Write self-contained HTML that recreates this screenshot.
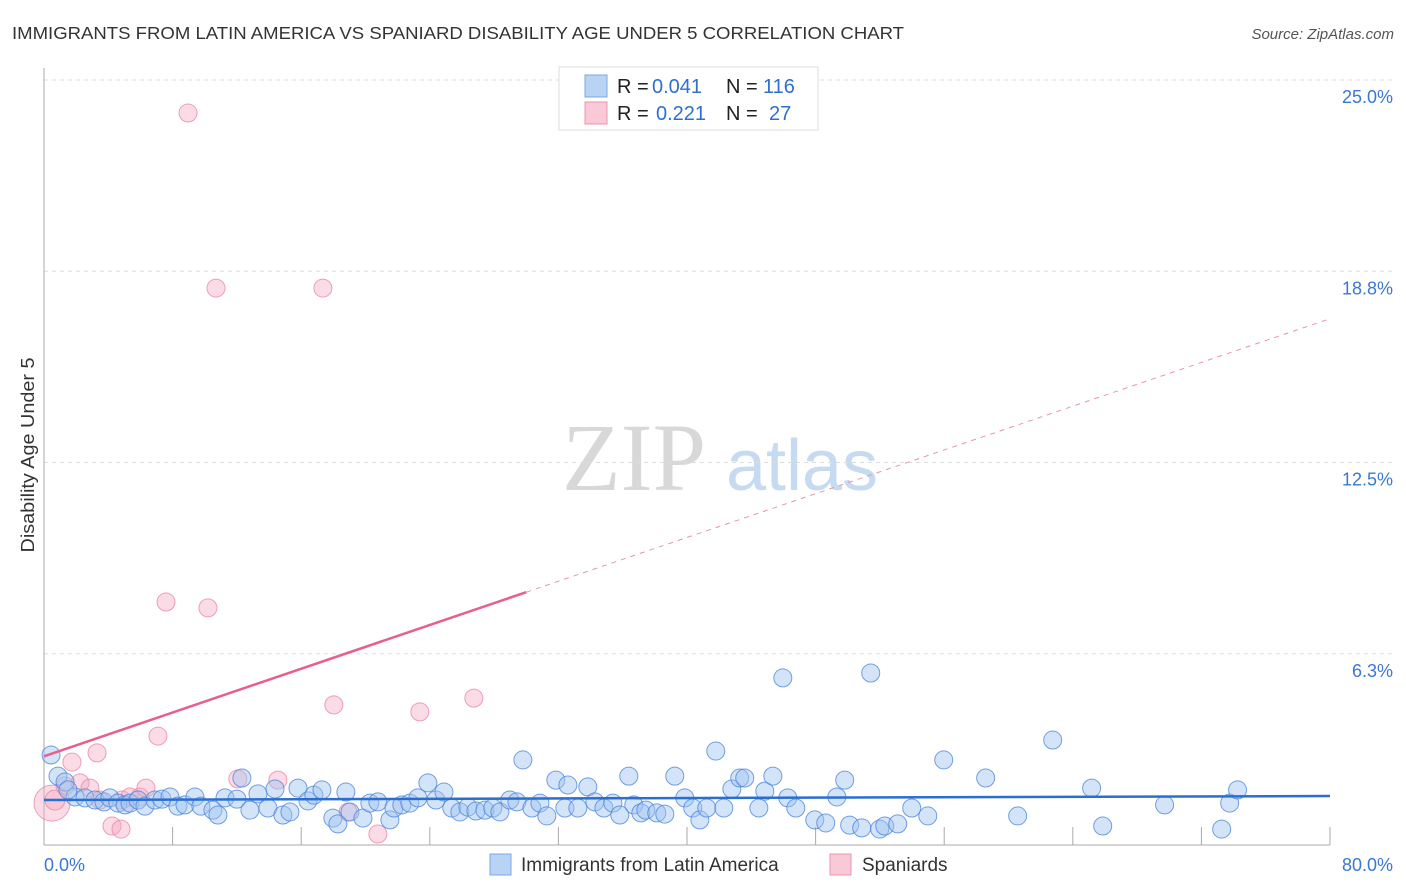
<!DOCTYPE html>
<html><head><meta charset="utf-8"><style>
body{margin:0;background:#fff;font-family:"Liberation Sans",sans-serif}
#wrap{position:relative;width:1406px;height:892px;overflow:hidden}
</style></head><body>
<div id="wrap">
<svg id="svg" width="1406" height="892" xmlns="http://www.w3.org/2000/svg">
<text x="12" y="39" font-size="17.5" fill="#333" textLength="892" lengthAdjust="spacingAndGlyphs">IMMIGRANTS FROM LATIN AMERICA VS SPANIARD DISABILITY AGE UNDER 5 CORRELATION CHART</text>
<text x="1394" y="39" font-size="15" fill="#555" font-style="italic" text-anchor="end">Source: ZipAtlas.com</text>
<text x="0" y="0" transform="translate(34,455) rotate(-90)" font-size="18" fill="#333" text-anchor="middle" textLength="195" lengthAdjust="spacingAndGlyphs">Disability Age Under 5</text>
<g>
<text x="634" y="490" font-family="Liberation Serif,serif" font-size="96" fill="#d8d8d8" text-anchor="middle">ZIP</text>
<text x="802" y="490" font-size="72" fill="#c6daf2" text-anchor="middle">atlas</text>
</g>
<g id="grid"></g><g id="axes"></g><g id="pts"></g><g id="trend"></g>
<g>
<rect x="559" y="67" width="259" height="63" fill="#fff" stroke="#ddd"/>
<rect x="585" y="75" width="22" height="22" fill="#b9d3f5" stroke="#7aa7e6"/>
<rect x="585" y="102" width="22" height="22" fill="#f9c9d7" stroke="#eb93ac"/>
<text x="617" y="93" font-size="20" fill="#222">R =</text>
<text x="652" y="93" font-size="20" fill="#2e6fd0">0.041</text>
<text x="726" y="93" font-size="20" fill="#222">N =</text>
<text x="763" y="93" font-size="20" fill="#2e6fd0">116</text>
<text x="617" y="120" font-size="20" fill="#222">R =</text>
<text x="656" y="120" font-size="20" fill="#2e6fd0">0.221</text>
<text x="726" y="120" font-size="20" fill="#222">N =</text>
<text x="769" y="120" font-size="20" fill="#2e6fd0">27</text>
</g>
<g>
<rect x="490" y="854" width="21" height="21" fill="#b9d3f5" stroke="#7aa7e6"/>
<text x="521" y="871" font-size="19" fill="#333">Immigrants from Latin America</text>
<rect x="830" y="854" width="21" height="21" fill="#f9c9d7" stroke="#eb93ac"/>
<text x="862" y="871" font-size="19" fill="#333">Spaniards</text>
</g>
</svg>
</div>
<script>
const yTicks=[25.0,18.8,12.5,6.3];
const yTickVals=[25,18.75,12.5,6.25];
const xTickLabels=["0.0%","80.0%"];
const blueX=[0.44,0.87,1.31,1.93,1.49,2.55,3.17,3.73,4.10,4.60,5.04,5.35,5.85,6.28,6.90,7.34,7.84,8.33,8.77,9.39,9.76,10.51,10.82,11.26,12.00,12.31,12.81,13.31,13.93,14.37,14.86,15.30,15.80,16.42,16.79,17.29,17.97,18.28,18.78,19.03,19.84,20.27,20.77,21.52,21.77,22.26,22.76,23.26,23.88,24.38,24.88,25.37,25.87,26.37,26.87,27.43,27.92,28.36,28.98,29.42,29.79,30.35,30.85,31.28,31.84,32.40,32.59,33.21,33.83,34.27,34.83,35.39,35.82,36.38,36.69,37.13,37.44,38.12,38.62,39.24,39.86,40.36,40.80,41.23,41.79,42.29,42.79,43.28,43.59,44.47,44.84,45.34,45.96,46.27,46.77,47.95,48.63,49.32,49.81,50.12,50.87,51.43,51.99,52.30,53.11,53.98,54.98,55.97,58.58,60.57,62.75,65.17,65.86,69.71,73.26,73.76,74.25];
const blueY=[2.94,2.25,2.06,1.57,1.80,1.54,1.47,1.41,1.54,1.37,1.31,1.37,1.47,1.27,1.47,1.50,1.57,1.27,1.31,1.57,1.27,1.14,0.98,1.54,1.50,2.19,1.14,1.67,1.21,1.83,0.98,1.08,1.86,1.44,1.63,1.80,0.88,0.69,1.73,1.08,0.88,1.37,1.41,0.82,1.21,1.31,1.37,1.54,2.03,1.47,1.73,1.21,1.08,1.24,1.11,1.14,1.21,1.08,1.47,1.41,2.78,1.21,1.37,0.95,2.12,1.21,1.96,1.21,1.90,1.41,1.21,1.37,0.98,2.25,1.31,1.05,1.14,1.05,1.01,2.25,1.54,1.21,0.82,1.21,3.07,1.21,1.83,2.19,2.19,1.21,1.76,2.25,5.46,1.54,1.21,0.82,0.72,1.57,2.12,0.65,0.56,5.62,0.52,0.62,0.69,1.21,0.95,2.78,2.19,0.95,3.43,1.86,0.62,1.31,0.52,1.37,1.80];
const pinkX=[0.50,0.68,1.31,1.74,2.24,2.86,3.30,3.48,4.23,4.79,4.85,5.35,5.97,6.34,7.09,7.59,8.96,10.20,10.70,12.06,14.55,17.35,18.03,18.91,20.77,23.38,26.74];
const pinkY=[1.37,1.47,1.93,2.71,2.03,1.86,3.01,1.47,0.62,0.52,1.47,1.57,1.57,1.86,3.56,7.94,23.92,7.75,18.20,2.16,2.12,18.20,4.58,1.08,0.36,4.35,4.80];
const pinkR=[18,10,9,9,9,9,9,9,9,9,9,9,9,9,9,9,9,9,9,9,9,9,9,9,9,9,9];
const blueTrend=[1.47,1.60];
const pinkTrend=[2.9,17.2];
const pinkSolidEnd=30;
const NS="http://www.w3.org/2000/svg";
const X0=44,X1=1330,Y0=845,Y25=80;
function sx(v){return X0+(v/80)*(X1-X0);}
function sy(v){return Y0-(v/25)*(Y0-Y25);}
function mk(tag,at,parent){const e=document.createElementNS(NS,tag);for(const k in at)e.setAttribute(k,at[k]);document.getElementById(parent).appendChild(e);return e;}
yTickVals.forEach((v,i)=>{
 const l=mk('line',{x1:X0,x2:1394,y1:sy(v),y2:sy(v),stroke:'#ddd','stroke-dasharray':'4,4'},'grid');
 
 
 const t=mk('text',{x:1393,y:sy(v)+23,'font-size':18,fill:'#3a78d4','text-anchor':'end'},'axes');
 t.textContent=yTicks[i].toFixed(1)+'%';
 
 
});
const ax=mk('line',{x1:X0,x2:X0,y1:68,y2:Y0,stroke:'#aaa'},'axes');


const bx=mk('line',{x1:X0,x2:X1,y1:Y0,y2:Y0,stroke:'#aaa'},'axes');


for(let i=1;i<=10;i++){
 const tk=mk('line',{x1:sx(i*8),x2:sx(i*8),y1:Y0-18,y2:Y0,stroke:'#aaa'},'axes');
 
 
}
[[0,'start',44],[80,'end',1393]].forEach((a,i)=>{
 const t=mk('text',{x:a[2],y:871,'font-size':18,fill:'#3a78d4','text-anchor':a[1]},'axes');
 t.textContent=xTickLabels[i];
 
 
});
pinkX.forEach((x,i)=>{
 const c=mk('circle',{cx:sx(x),cy:sy(pinkY[i]),r:pinkR[i],fill:'rgba(246,168,192,0.4)',stroke:'rgba(235,130,160,0.75)','stroke-width':1},'pts');
 
 
});
blueX.forEach((x,i)=>{
 const c=mk('circle',{cx:sx(x),cy:sy(blueY[i]),r:9,fill:'rgba(160,195,240,0.45)',stroke:'rgba(70,130,220,0.75)','stroke-width':1},'pts');
 
 
});
const bt=mk('line',{x1:sx(0),y1:sy(blueTrend[0]),x2:sx(80),y2:sy(blueTrend[1]),stroke:'#2a6fd0','stroke-width':2.5},'trend');


function py(x){return pinkTrend[0]+(pinkTrend[1]-pinkTrend[0])*x/80;}
const ps=mk('line',{x1:sx(0),y1:sy(py(0)),x2:sx(pinkSolidEnd),y2:sy(py(pinkSolidEnd)),stroke:'#e8608a','stroke-width':2.5},'trend');


const pd=mk('line',{x1:sx(pinkSolidEnd),y1:sy(py(pinkSolidEnd)),x2:sx(80),y2:sy(py(80)),stroke:'#eb93ac','stroke-width':1,'stroke-dasharray':'5,5'},'trend');


</script>
</body></html>
